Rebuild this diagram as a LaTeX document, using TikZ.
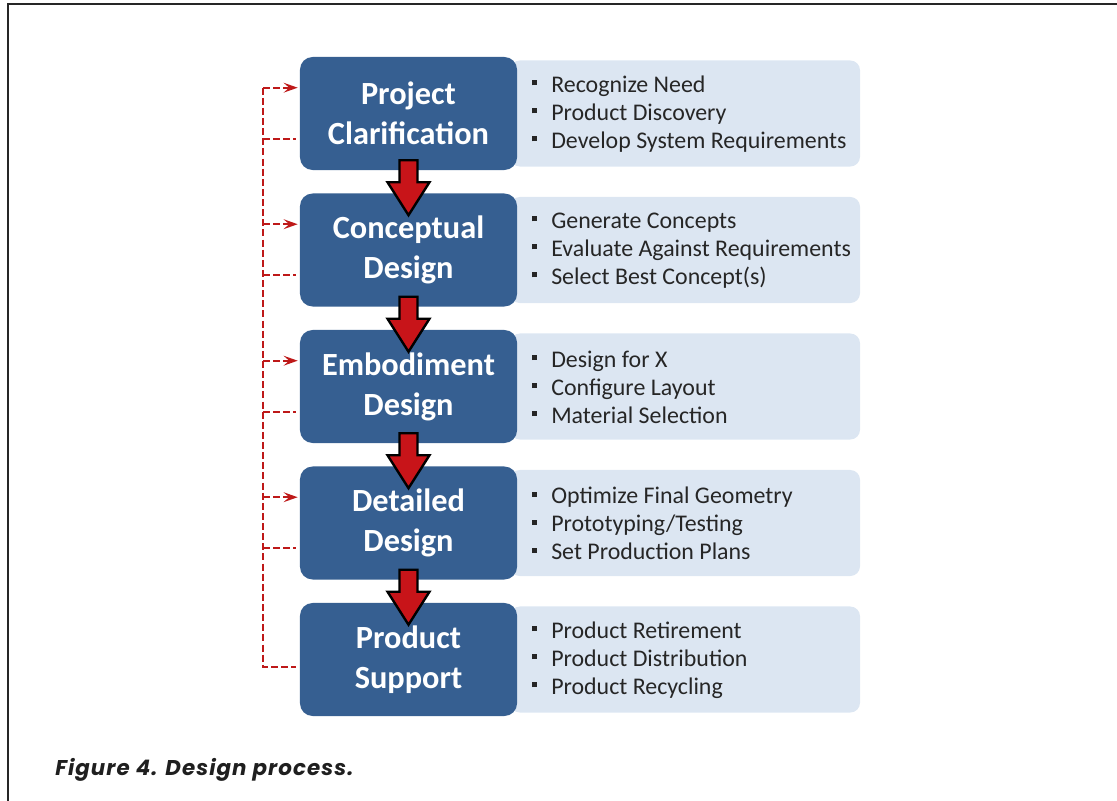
\documentclass[tikz,border=0pt]{standalone}
\usepackage{fontspec}
\setmainfont{Carlito}
\newfontfamily\captionfont[LetterSpace=5]{Poppins}
\usetikzlibrary{calc, arrows.meta}

\definecolor{stageblue}{RGB}{54,95,145}
\definecolor{notefill}{RGB}{220,230,242}
\definecolor{loopred}{RGB}{190,25,25}
\definecolor{flowred}{RGB}{200,20,25}

% square bullet for the task lists
\newcommand{\bul}{\rule[5pt]{3.6pt}{3.6pt}\hspace{9.9pt}}

\begin{document}
\begin{tikzpicture}[x=0.025cm, y=-0.025cm]

        % Setup the styles for the boxes and links
        \tikzset{stage/.style={rectangle, rounded corners=9pt,
                               fill=stageblue, text=white,
                               minimum width=5.425cm, minimum height=2.825cm,
                               align=center,
                               font=\fontsize{23}{28.5}\selectfont\bfseries},
                 notes/.style={rectangle, rounded corners=7pt,
                               fill=notefill,
                               minimum width=8.75cm, minimum height=2.65cm},
                 tasks/.style={anchor=west, align=left, text=black!85,
                               inner sep=0pt,
                               font=\fontsize{17}{19.9}\selectfont},
                 feedback/.style={draw=loopred, line width=1.4pt,
                                  dash pattern=on 5pt off 2.2pt},
                 flow/.style={fill=flowred, draw=black, line width=1.7pt,
                              line join=miter}}

        \useasboundingbox (0,0) rectangle (1117,801);

        % Frame
        \draw[line width=1.1pt, black!85] (8,801) -- (8,4) -- (1117,4);

        % Draw the task panels
        \node[notes] (N1) at (685,113.5) {};
        \node[notes] (N2) at (685,250)   {};
        \node[notes] (N3) at (685,386.5) {};
        \node[notes] (N4) at (685,523)   {};
        \node[notes] (N5) at (685,659.5) {};

        % Draw the stages
        \node[stage] (P1) at (408.5,113.5) {Project\\Clarification};
        \node[stage] (P2) at (408.5,250)   {Conceptual\\Design};
        \node[stage] (P3) at (408.5,386.5) {Embodiment\\Design};
        \node[stage] (P4) at (408.5,523)   {Detailed\\Design};
        \node[stage] (P5) at (408.5,659.5) {Product\\Support};

        % Fill in the tasks
        \node[tasks] (T1) at (532,114) {\bul Recognize Need\\\bul Product Discovery\\\bul Develop System Requirements};
        \node[tasks] (T2) at (532,250.5) {\bul Generate Concepts\\\bul Evaluate Against Requirements\\\bul Select Best Concept(s)};
        \node[tasks] (T3) at (532,387) {\bul Design for X\\\bul Configure Layout\\\bul Material Selection};
        \node[tasks] (T4) at (532,523.5) {\bul Optimize Final Geometry\\\bul Prototyping/Testing\\\bul Set Production Plans};
        \node[tasks] (T5) at (532,660) {\bul Product Retirement\\\bul Product Distribution\\\bul Product Recycling};

        % Connect the stages with block arrows
        \foreach \a/\b in {P1/P2, P2/P3, P3/P4, P4/P5}
            \draw[flow] ($(\a.south)+(-9,-10)$) -- ($(\a.south)+(9,-10)$)
                     -- ($(\b.north)+(9,-11)$) -- ($(\b.north)+(21,-11)$)
                     -- ($(\b.north)+(0,22)$) -- ($(\b.north)+(-21,-11)$)
                     -- ($(\b.north)+(-9,-11)$) -- cycle;

        % Feedback loop on the left
        \coordinate (bus) at (263,0);
        \foreach \s in {1,2,3,4} {
            \coordinate (in\s)  at ($(P\s.north west)+(-2,31)$);
            \coordinate (out\s) at ($(P\s.north west)+(-4,82)$);
            \draw[feedback, -{Stealth[length=10pt, width=7pt, inset=4pt]}]
                (bus |- in\s) -- (in\s);
            \draw[feedback] (bus |- out\s) -- (out\s);
        }
        \coordinate (out5) at ($(P5.north west)+(-4,64)$);
        \draw[feedback] (bus |- in1) -- (bus |- out5) -- (out5);

        % Caption
        \node[anchor=base west, text=black!88, inner sep=0pt,
              font=\captionfont\fontsize{15.2}{18}\selectfont\bfseries\itshape]
            (caption) at (55,775) {Figure 4. Design process.};
    \end{tikzpicture}
\end{document}
